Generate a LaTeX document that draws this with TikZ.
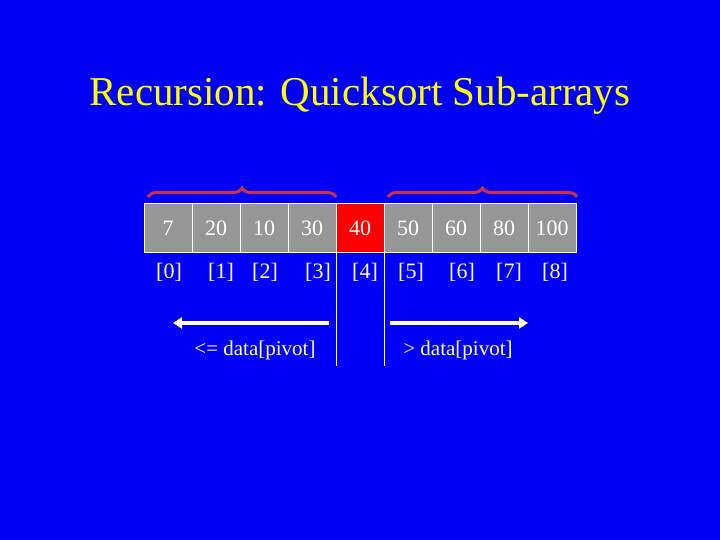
\documentclass[tikz,border=0pt]{standalone}
\usepackage{fontspec}
\setmainfont{Liberation Serif}
\usetikzlibrary{decorations.pathreplacing,arrows.meta}
\definecolor{bg}{RGB}{0,0,245}
\definecolor{ttl}{RGB}{255,255,0}
\definecolor{cellg}{RGB}{150,150,150}
\definecolor{piv}{RGB}{255,0,0}
\definecolor{bracecol}{RGB}{200,50,80}
\begin{document}
\begin{tikzpicture}[x=1pt,y=-1pt,
  cell/.style={draw=white,line width=1pt,fill=cellg,minimum width=48pt,minimum height=48pt,inner sep=0,text=white,font=\fontsize{22}{22}\selectfont},
  idx/.style={text=white,font=\fontsize{22}{22}\selectfont,inner sep=0},
  lbl/.style={text=white,font=\fontsize{21}{21}\selectfont,inner sep=0},
  arr/.style={white,line width=4pt,-{Triangle[length=9pt,width=11pt]}},
  bracestyle/.style={bracecol,line width=3pt,decorate,decoration={brace,amplitude=9pt}}]
\fill[bg] (0,0) rectangle (720,540);
\useasboundingbox (0,0) rectangle (720,540);
\node[text=ttl,font=\fontsize{41}{41}\selectfont] (title) at (360,96) {Recursion: Quicksort Sub-arrays};
\foreach \v [count=\i from 0] in {7,20,10,30,40,50,60,80,100}{
  \node[cell] (c\i) at (168+48*\i,228) {\v};
}
\node[cell,fill=piv] at (c4) {40};
\foreach \x [count=\i from 0] in {169,221,265,318,365,411,462,509,555}{
  \node[idx] (i\i) at (\x,272) {[\i]};
}
\coordinate (l1) at (336,252); \coordinate (l2) at (336,366);
\coordinate (r1) at (384,252); \coordinate (r2) at (384,366);
\draw[white,line width=1pt] (l1) -- (l2);
\draw[white,line width=1pt] (r1) -- (r2);
\coordinate (a1) at (329,323); \coordinate (a2) at (173,323);
\coordinate (b1) at (390,323); \coordinate (b2) at (528,323);
\draw[arr] (a1) -- (a2);
\draw[arr] (b1) -- (b2);
\node[lbl] (t1) at (255,350) {<= data[pivot]};
\node[lbl] (t2) at (458,350) {> data[pivot]};
\coordinate (br1) at (148,197); \coordinate (br2) at (336,197);
\coordinate (br3) at (388,197); \coordinate (br4) at (577,197);
\draw[bracestyle] (br1) -- (br2);
\draw[bracestyle] (br3) -- (br4);
\end{tikzpicture}
\end{document}
